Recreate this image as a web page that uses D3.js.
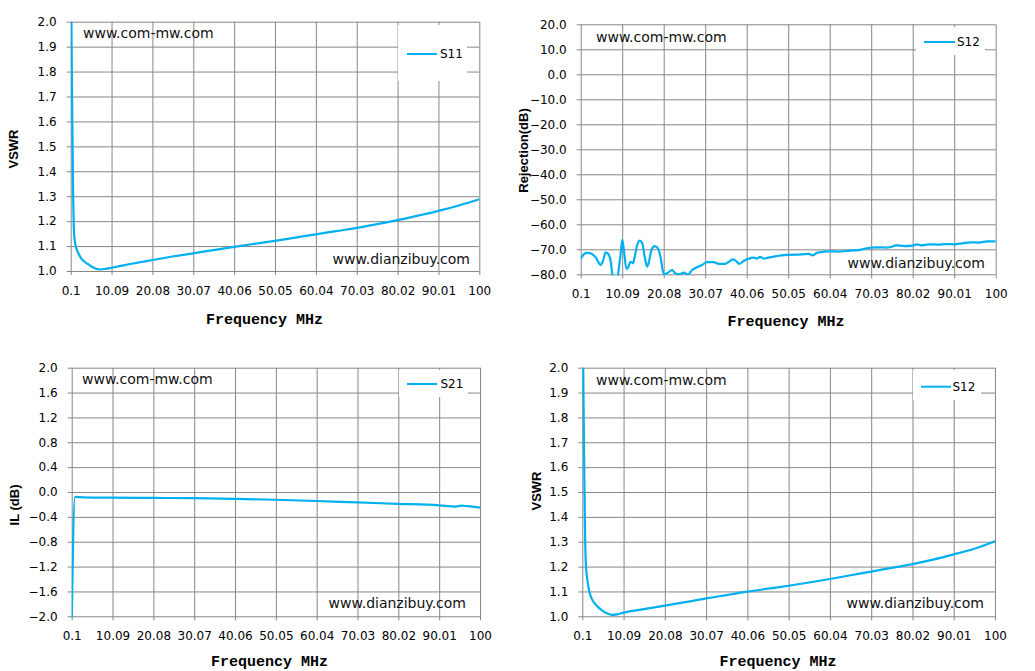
<!DOCTYPE html>
<html>
<head>
<meta charset="utf-8">
<script src="https://cdn.jsdelivr.net/npm/d3@7"></script>
<style>
  body { margin: 0; background: #fff; }
  svg { display: block; }
</style>
</head>
<body>
<svg width="1035" height="671"></svg>
<script>
// Shared x ticks (MHz)
const freqTicks = [0.1, 10.09, 20.08, 30.07, 40.06, 50.05, 60.04, 70.03, 80.02, 90.01, 100];
const freqLabels = ["0.1", "10.09", "20.08", "30.07", "40.06", "50.05", "60.04", "70.03", "80.02", "90.01", "100"];

// y ticks
const vswrTicks = [1.0, 1.1, 1.2, 1.3, 1.4, 1.5, 1.6, 1.7, 1.8, 1.9, 2.0];
const rejTicks = [-80, -70, -60, -50, -40, -30, -20, -10, 0, 10, 20];
const ilTicks = [-2.0, -1.6, -1.2, -0.8, -0.4, 0.0, 0.4, 0.8, 1.2, 1.6, 2.0];

// S11 VSWR (top left)
const s11Freq = [0.1, 0.3, 0.5, 0.7, 0.85, 1.1, 1.5, 2.0, 2.7, 3.5, 4.3, 5.2, 6.0, 7.2, 8.5, 10.09, 15, 20.08, 25, 30.07, 35, 40.06, 45, 50.05, 55, 60.04, 65, 70.03, 75, 80.02, 85, 90.01, 95, 100];
const s11Vswr = [2.5, 1.95, 1.6, 1.3, 1.18, 1.12, 1.09, 1.07, 1.05, 1.037, 1.028, 1.018, 1.011, 1.006, 1.008, 1.013, 1.029, 1.044, 1.058, 1.071, 1.084, 1.097, 1.109, 1.121, 1.134, 1.147, 1.16, 1.173, 1.188, 1.204, 1.222, 1.241, 1.263, 1.288];

// S12 rejection (top right)
const rejFreq = [0.1, 0.9, 1.7, 2.7, 3.7, 4.9, 5.5, 6.1, 6.7, 7.3, 7.7, 8.4, 9.1, 9.7, 10.1, 10.5, 11.1, 11.5, 12.1, 12.7, 13.1, 13.7, 14.3, 14.9, 15.5, 16.1, 16.5, 17.1, 17.9, 18.7, 19.3, 20.1, 20.9, 22.1, 22.9, 23.9, 24.9, 25.7, 26.1, 26.9, 28.1, 29.3, 30.5, 32.1, 33.3, 34.9, 35.7, 36.7, 37.3, 38.3, 39.3, 40.5, 41.7, 42.5, 43.3, 44.1, 45.3, 46.9, 48.5, 50.1, 53.3, 54.9, 56.0, 57.1, 60.0, 62, 65, 67, 70, 72, 74, 75, 76, 78, 80, 81, 82, 84, 86, 88, 90, 92, 94, 96, 98, 100];
const rejDb = [-73.8, -71.9, -71.4, -71.8, -73.2, -76.2, -74.5, -71.2, -71.8, -74.5, -80, -90, -80, -72, -66.2, -70.3, -77.8, -77.3, -75, -75.6, -73, -68.3, -66.5, -67.5, -73, -76.9, -75.2, -70.4, -68.7, -69.6, -73, -80, -79.6, -78.3, -79.7, -80, -79.3, -80, -79.9, -78.3, -77.2, -76.3, -75.1, -75.1, -75.8, -75.8, -75.1, -74, -74.4, -75.8, -74.7, -73.8, -73.3, -73.7, -73, -73.7, -73.3, -72.8, -72.4, -72.2, -72, -71.8, -72.4, -71.3, -70.8, -70.9, -70.5, -70.3, -69.3, -69.2, -69.3, -69, -68.4, -68.7, -68.5, -68, -68.4, -68, -68.1, -67.9, -68, -67.6, -67.2, -67.3, -66.8, -66.8];

// S21 insertion loss (bottom left)
const ilFreq = [0.1, 0.9, 3, 10.09, 20.08, 30.07, 40.06, 50.05, 60.04, 70.03, 80.02, 90.01, 94, 95.5, 97, 100];
const ilDb = [-2.1, -0.08, -0.085, -0.09, -0.095, -0.1, -0.11, -0.125, -0.145, -0.168, -0.19, -0.215, -0.235, -0.22, -0.228, -0.25];

// S12 VSWR (bottom right)
const s12Freq = [0.1, 0.35, 0.6, 0.8, 1.0, 1.3, 1.8, 2.4, 3.2, 4.2, 5.2, 6.2, 7.2, 8.5, 10.09, 15, 20.08, 25, 30.07, 35, 40.06, 45, 50.05, 55, 60.04, 65, 70.03, 75, 80.02, 85, 90.01, 95, 100];
const s12Vswr = [2.5, 1.95, 1.55, 1.3, 1.2, 1.15, 1.1, 1.07, 1.05, 1.033, 1.02, 1.011, 1.006, 1.008, 1.015, 1.029, 1.043, 1.057, 1.072, 1.085, 1.099, 1.111, 1.123, 1.136, 1.15, 1.165, 1.18, 1.195, 1.21, 1.228, 1.249, 1.272, 1.302];

const lineColor = "#00B0F0";
const gridColor = "#878787";

const svg = d3.select("svg");
svg.append("rect").attr("width", 1035).attr("height", 671).attr("fill", "#fff");

const panels = [
  { id: "p1", freq: s11Freq, vals: s11Vswr, yTicks: vswrTicks, yDomain: [1, 2], fmt: d3.format(".1f"),
    x0: 70.7, x1: 479.3, y0: 21.7, y1: 271, name: "S11", yTitle: "VSWR",
    legend: { x: 398, y: 25, w: 69, h: 56, lx0: 407, lx1: 437, ly: 54, tx: 440 },
    wm1: { x: 83, y: 38 }, wm2: { x: 470, y: 264 }, yt: { x: 13, y: 149 }, xt: { x: 264.5, y: 324 } },
  { id: "p2", freq: rejFreq, vals: rejDb, yTicks: rejTicks, yDomain: [-80, 20], fmt: d3.format(".1f"),
    x0: 580.7, x1: 995.7, y0: 24.3, y1: 274.3, name: "S12", yTitle: "Rejection(dB)",
    legend: { x: 916, y: 27, w: 69, h: 28, lx0: 924, lx1: 955, ly: 42, tx: 957 },
    wm1: { x: 596, y: 41.5 }, wm2: { x: 985, y: 268 }, yt: { x: 523, y: 150.5 }, xt: { x: 786, y: 326 } },
  { id: "p3", freq: ilFreq, vals: ilDb, yTicks: ilTicks, yDomain: [-2, 2], fmt: d3.format(".1f"),
    x0: 71.7, x1: 480, y0: 367.7, y1: 616.3, name: "S21", yTitle: "IL (dB)",
    legend: { x: 399, y: 370, w: 69, h: 27, lx0: 407, lx1: 437, ly: 384, tx: 440.5 },
    wm1: { x: 82, y: 384 }, wm2: { x: 466, y: 608 }, yt: { x: 14, y: 505 }, xt: { x: 269.5, y: 666 } },
  { id: "p4", freq: s12Freq, vals: s12Vswr, yTicks: vswrTicks, yDomain: [1, 2], fmt: d3.format(".1f"),
    x0: 582.3, x1: 995, y0: 367.7, y1: 616.3, name: "S12", yTitle: "VSWR",
    legend: { x: 913, y: 370, w: 68, h: 30, lx0: 921, lx1: 951, ly: 386.7, tx: 952.5 },
    wm1: { x: 596, y: 385 }, wm2: { x: 984, y: 608 }, yt: { x: 536, y: 491 }, xt: { x: 778, y: 666 } }
];

panels.forEach(p => {
  const w = p.x1 - p.x0;
  const h = p.y1 - p.y0;
  const x = d3.scaleLinear().domain([0.1, 100]).range([0, w]);
  const y = d3.scaleLinear().domain(p.yDomain).range([h, 0]);

  const g = svg.append("g").attr("transform", `translate(${p.x0},${p.y0})`);

  // y axis + horizontal gridlines
  const ya = g.append("g")
    .call(d3.axisLeft(y).tickValues(p.yTicks).tickFormat(p.fmt).tickSize(-w).tickPadding(14));
  ya.select(".domain").remove();
  ya.selectAll(".tick line").attr("x1", -4).attr("stroke", gridColor);
  ya.selectAll(".tick text").attr("font-family", "DejaVu Sans").attr("font-size", 12).attr("fill", "#000");

  // x axis + vertical gridlines
  const xa = g.append("g").attr("transform", `translate(0,${h})`)
    .call(d3.axisBottom(x).tickValues(freqTicks).tickFormat((d, i) => freqLabels[i]).tickSize(-h).tickPadding(15));
  xa.select(".domain").remove();
  xa.selectAll(".tick line").attr("y1", 4).attr("stroke", gridColor);
  xa.selectAll(".tick text").attr("font-family", "DejaVu Sans").attr("font-size", 12).attr("fill", "#000");

  // legend box (white, covers gridlines)
  const L = p.legend;
  svg.append("rect").attr("x", L.x).attr("y", L.y).attr("width", L.w).attr("height", L.h).attr("fill", "#fff");
  svg.append("line").attr("x1", L.lx0).attr("x2", L.lx1).attr("y1", L.ly).attr("y2", L.ly)
    .attr("stroke", lineColor).attr("stroke-width", 2);
  svg.append("text").attr("x", L.tx).attr("y", L.ly).attr("dy", "0.36em")
    .attr("font-family", "DejaVu Sans").attr("font-size", 12).text(p.name);

  // data line
  svg.append("clipPath").attr("id", "clip-" + p.id)
    .append("rect").attr("x", 0).attr("y", 0).attr("width", w).attr("height", h + 1);
  const line = d3.line()
    .x((d, i) => x(p.freq[i]))
    .y(d => y(d))
    .curve(d3.curveMonotoneX);
  g.append("path")
    .attr("clip-path", `url(#clip-${p.id})`)
    .attr("d", line(p.vals))
    .attr("fill", "none")
    .attr("stroke", lineColor)
    .attr("stroke-width", 2.2)
    .attr("stroke-linejoin", "round");

  // watermarks
  svg.append("text").attr("x", p.wm1.x).attr("y", p.wm1.y)
    .attr("font-family", "DejaVu Sans").attr("font-size", 14).attr("fill", "#111").text("www.com-mw.com");
  svg.append("text").attr("x", p.wm2.x).attr("y", p.wm2.y).attr("text-anchor", "end")
    .attr("font-family", "DejaVu Sans").attr("font-size", 14).attr("fill", "#111").text("www.dianzibuy.com");

  // axis titles
  svg.append("text")
    .attr("transform", `translate(${p.yt.x},${p.yt.y}) rotate(-90)`)
    .attr("text-anchor", "middle").attr("dy", "0.35em")
    .attr("font-family", "Liberation Sans").attr("font-weight", "bold").attr("font-size", 13)
    .text(p.yTitle);
  svg.append("text")
    .attr("x", p.xt.x).attr("y", p.xt.y).attr("text-anchor", "middle")
    .attr("font-family", "Liberation Mono").attr("font-weight", "bold").attr("font-size", 15)
    .text("Frequency MHz");
});
</script>
</body>
</html>
